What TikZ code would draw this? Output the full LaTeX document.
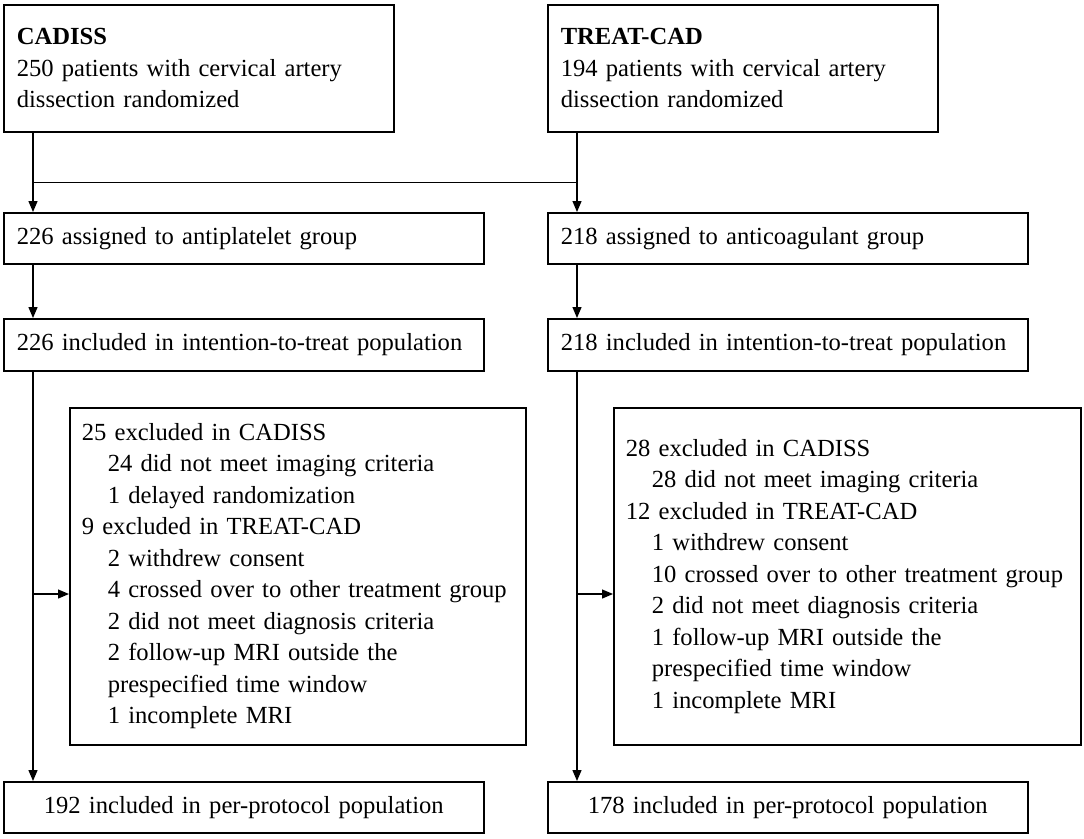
\documentclass[tikz,border=0pt]{standalone}
\usepackage{fontspec}
\setmainfont{Liberation Serif}
\usetikzlibrary{arrows.meta}
\tikzstyle{box} = [rectangle,
anchor=north west,
align=left,
inner xsep=13pt,
inner ysep=0pt,
line width=1.6pt,
font=\fontsize{24.6}{31.5}\selectfont,
draw=black]
\tikzstyle{exclbox} = [box, inner xsep=12pt]
\tikzstyle{arrow} = [line width=1.3pt,-{Triangle[length=11pt,width=9pt]}]
\tikzstyle{link} = [line width=0.9pt]
\newcommand{\indsub}{\hspace*{26pt}}

\begin{document}
\begin{tikzpicture}[x=1pt,y=-1pt]
\useasboundingbox (0,0) rectangle (1084,838);

% Essais randomisés
\node[box, text width=364pt, minimum height=127pt] (cadiss) at (3,4)
  {\textbf{CADISS}\\250 patients with cervical artery\\dissection randomized};
\node[box, text width=364pt, minimum height=127pt] (treat) at (547,4)
  {\textbf{TREAT-CAD}\\194 patients with cervical artery\\dissection randomized};

% Groupes
\node[box, text width=454pt, minimum height=51pt] (antip) at (3,212)
  {226 assigned to antiplatelet group};
\node[box, text width=454pt, minimum height=51pt] (antic) at (547,212)
  {218 assigned to anticoagulant group};

% Intention de traiter
\node[box, text width=454pt, minimum height=52pt] (ittL) at (3,318)
  {226 included in intention-to-treat population};
\node[box, text width=454pt, minimum height=52pt] (ittR) at (547,318)
  {218 included in intention-to-treat population};

% Exclusions
\node[exclbox, text width=432pt, minimum height=337pt] (exclL) at (69,407)
  {25 excluded in CADISS\\
   \indsub 24 did not meet imaging criteria\\
   \indsub 1 delayed randomization\\
   9 excluded in TREAT-CAD\\
   \indsub 2 withdrew consent\\
   \indsub 4 crossed over to other treatment group\\
   \indsub 2 did not meet diagnosis criteria\\
   \indsub 2 follow-up MRI outside the\\
   \indsub prespecified time window\\
   \indsub 1 incomplete MRI};
\node[exclbox, text width=443pt, minimum height=337pt] (exclR) at (613,407)
  {28 excluded in CADISS\\
   \indsub 28 did not meet imaging criteria\\
   12 excluded in TREAT-CAD\\
   \indsub 1 withdrew consent\\
   \indsub 10 crossed over to other treatment group\\
   \indsub 2 did not meet diagnosis criteria\\
   \indsub 1 follow-up MRI outside the\\
   \indsub prespecified time window\\
   \indsub 1 incomplete MRI};

% Per-protocol
\node[box, align=center, text width=454pt, minimum height=51pt] (ppL) at (3,781)
  {192 included in per-protocol population};
\node[box, align=center, text width=454pt, minimum height=51pt] (ppR) at (547,781)
  {178 included in per-protocol population};

% Lignes verticales
\coordinate (lx) at (33,0);
\coordinate (rx) at (577,0);
\coordinate (jy) at (0,182);
\coordinate (ay) at (0,594);

\draw[arrow] (cadiss.south -| lx) -- (antip.north -| lx);
\draw[arrow] (treat.south -| rx) -- (antic.north -| rx);
\draw[link] (jy -| lx) -- (jy -| rx);

\draw[arrow] (antip.south -| lx) -- (ittL.north -| lx);
\draw[arrow] (antic.south -| rx) -- (ittR.north -| rx);

\draw[arrow] (ittL.south -| lx) -- (ppL.north -| lx);
\draw[arrow] (ittR.south -| rx) -- (ppR.north -| rx);

% Flèches vers les exclusions
\draw[arrow] (ay -| lx) -- (ay -| exclL.west);
\draw[arrow] (ay -| rx) -- (ay -| exclR.west);

\end{tikzpicture}
\end{document}
